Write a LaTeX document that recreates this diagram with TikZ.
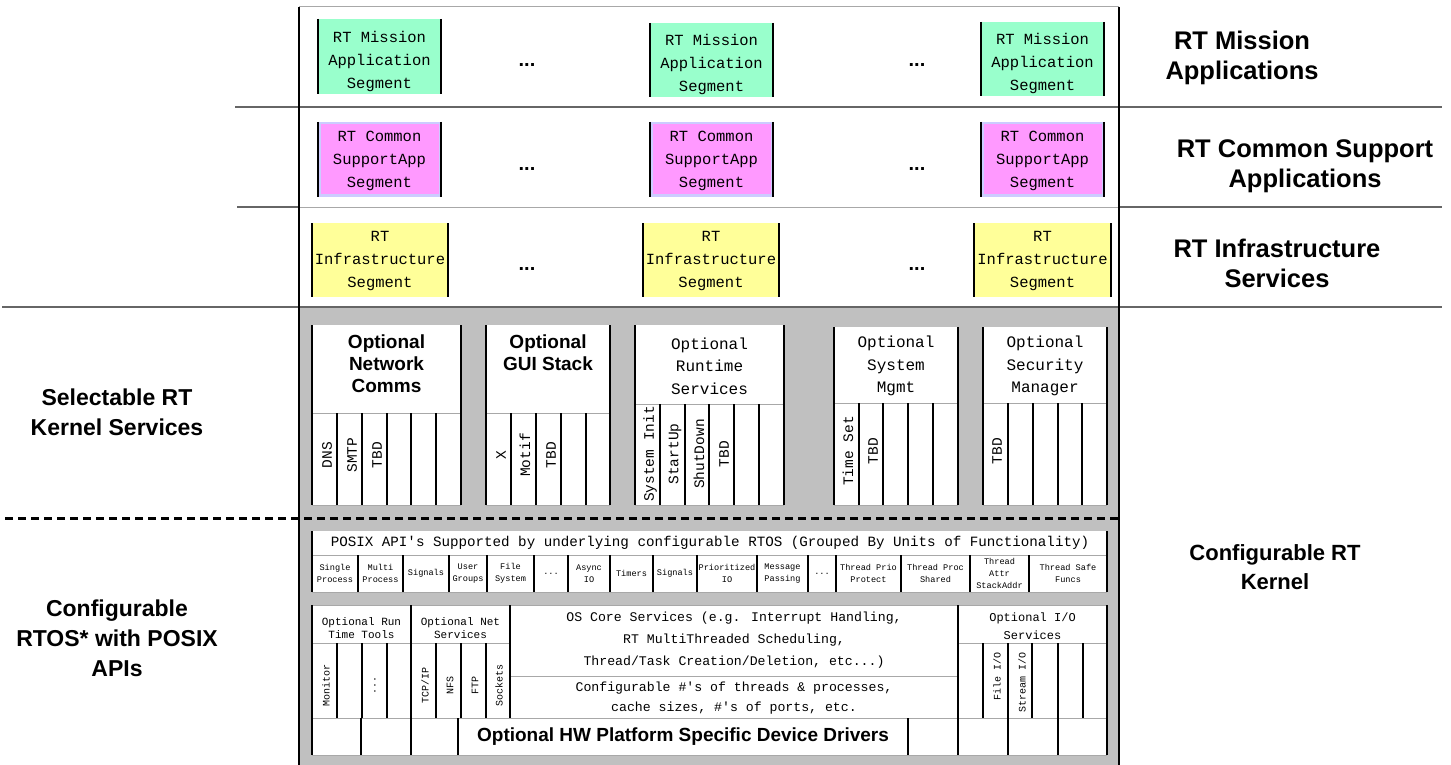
\documentclass[tikz,border=0pt]{standalone}
\usepackage{fontspec}
\setmainfont{Liberation Sans}
\newfontfamily\cour{Liberation Mono}
\newcommand\myfs[2]{\fontsize{#1}{#2}\selectfont}
\newcommand\tdots{...}
\definecolor{mgreen}{HTML}{99FFCC}
\definecolor{mpink}{HTML}{FF99FF}
\definecolor{mlav}{HTML}{CCCCFF}
\definecolor{myellow}{HTML}{FFFF99}
\definecolor{mgrey}{HTML}{C0C0C0}
\definecolor{sepdark}{HTML}{666666}
\definecolor{seplight}{HTML}{A8A8A8}
\begin{document}
\begin{tikzpicture}[x=1pt,y=-1pt,
  bar/.style={line width=2pt,draw=black},
  hair/.style={line width=0.8pt,draw=seplight},
  sepd/.style={line width=1.6pt,draw=sepdark},
  segtxt/.style={font=\cour\myfs{15.5}{23},align=center,inner sep=0pt},
  dots/.style={font=\bfseries\myfs{20}{24},inner sep=0pt,anchor=base},
  biglab/.style={font=\bfseries\myfs{25.5}{30},align=center,inner sep=0pt},
  sidelab/.style={font=\bfseries\myfs{23}{30},align=center,inner sep=0pt},
  hdrb/.style={font=\bfseries\myfs{19}{22},align=center,inner sep=0pt},
  hdrm/.style={font=\cour\myfs{16}{22.5},align=center,inner sep=0pt},
  vlab/.style={font=\cour\myfs{14.5}{15},rotate=90,inner sep=0pt},
  vlabs/.style={font=\cour\myfs{10}{10},rotate=90,inner sep=0pt},
  cell/.style={font=\cour\myfs{8.6}{12},align=center,inner sep=0pt},
  hdrs/.style={font=\cour\myfs{11}{13},align=center,inner sep=0pt},
  coretxt/.style={font=\cour\myfs{13.2}{22},align=center,inner sep=0pt}]
\useasboundingbox (0,0) rectangle (1451,765);
\fill[white] (0,0) rectangle (1451,765);
% grey kernel region
\fill[mgrey] (299,307) rectangle (1119,765);
% separators
\draw[line width=1pt,draw=seplight] (299,7) -- (1119,7);
\draw[sepd] (235,107) -- (1442,107);
\draw[sepd] (237,207) -- (299,207);
\draw[hair] (299,207) -- (1119,207);
\draw[sepd] (1119,207) -- (1442,207);
\draw[sepd] (2,307) -- (1442,307);
\draw[line width=1.6pt] (299,7) -- (299,765);
\draw[line width=1.6pt] (1119,7) -- (1119,765);
\draw[line width=3pt,dash pattern=on 8pt off 5pt] (5,518) -- (1119,518);
% application segments
\foreach \a/\b/\t/\u in {318/441/19/94,650/773/23/97,981/1104/22/96}{
  \fill[mgreen] (\a,\t) rectangle (\b,\u);
  \draw[bar] (\a,\t) -- (\a,\u) (\b,\t) -- (\b,\u);}
\foreach \a/\b/\t/\u in {318/441/122/197,650/773/122/197,981/1104/122/197}{
  \fill[mlav] (\a,\t) rectangle (\b,\u);
  \fill[mpink] (\a+3,\t+2.5) rectangle (\b-2,\u-3);
  \draw[bar] (\a,\t) -- (\a,\u) (\b,\t) -- (\b,\u);}
\foreach \a/\b/\t/\u in {312/448/223/297,643/779/223/297,974/1111/223/297}{
  \fill[myellow] (\a,\t) rectangle (\b,\u);
  \draw[bar] (\a,\t) -- (\a,\u) (\b,\t) -- (\b,\u);}
\node[segtxt] (m1) at (379.5,61) {RT Mission\\Application\\Segment};
\node[segtxt] (m2) at (711.5,64) {RT Mission\\Application\\Segment};
\node[segtxt] (m3) at (1042.5,63) {RT Mission\\Application\\Segment};
\node[segtxt] (c1) at (379.5,161) {RT Common\\SupportApp\\Segment};
\node[segtxt] (c2) at (711.5,161) {RT Common\\SupportApp\\Segment};
\node[segtxt] (c3) at (1042.5,161) {RT Common\\SupportApp\\Segment};
\node[segtxt] (i1) at (380,261) {RT\\Infrastructure\\Segment};
\node[segtxt] (i2) at (711,261) {RT\\Infrastructure\\Segment};
\node[segtxt] (i3) at (1042.5,261) {RT\\Infrastructure\\Segment};
\node[dots] (d1) at (527,67) {\tdots};
\node[dots] (d2) at (917,67) {\tdots};
\node[dots] (d3) at (527,170) {\tdots};
\node[dots] (d4) at (917,170) {\tdots};
\node[dots] (d5) at (527,270) {\tdots};
\node[dots] (d6) at (917,270) {\tdots};
% side labels
\node[biglab] (lmis) at (1242,58) {RT Mission\\Applications};
\node[biglab] (lcom) at (1305,166) {RT Common Support\\Applications};
\node[biglab] (linf) at (1277,263) {RT Infrastructure\\Services};
\node[sidelab,font=\bfseries\myfs{22}{29}] (lker) at (1275,567) {Configurable RT\\Kernel};
\node[sidelab] (lsel) at (117,412) {Selectable RT\\Kernel Services};
\node[sidelab] (lrtos) at (117,638) {Configurable\\RTOS* with POSIX\\APIs};
% selectable kernel services
\foreach \a/\b/\t/\h in {312/461/325/413,486/610/325/413,635/784/325/404,834/958/327/403,983/1107/327/403}{
  \fill[white] (\a,\t) rectangle (\b,505);
  \draw[hair] (\a,\h) -- (\b,\h) (\a,505) -- (\b,505);
  \draw[bar] (\a,\t) -- (\a,505) (\b,\t) -- (\b,505);}
\foreach \x in {337,362,387,411,436,511,536,561,586} \draw[bar] (\x,413) -- (\x,505);
\foreach \x in {660,685,709,734,759} \draw[bar] (\x,404) -- (\x,505);
\foreach \x in {859,883,908,933,1008,1033,1058,1082} \draw[bar] (\x,403) -- (\x,505);
\node[hdrb] (hnet) at (386.5,364) {Optional\\Network\\Comms};
\node[hdrb] (hgui) at (548,353) {Optional\\GUI Stack};
\node[hdrm] (hrun) at (709.5,366) {Optional\\Runtime\\Services};
\node[hdrm] (hsys) at (896,366) {Optional\\System\\Mgmt};
\node[hdrm] (hsec) at (1045,366) {Optional\\Security\\Manager};
\node[vlab] (vdns) at (327,455) {DNS};
\node[vlab] (vsmtp) at (352,455) {SMTP};
\node[vlab] (vtbd1) at (377,455) {TBD};
\node[vlab] (vx) at (501,455) {X};
\node[vlab] (vmotif) at (525,455) {Motif};
\node[vlab] (vtbd2) at (551,455) {TBD};
\node[vlab] (vinit) at (650,454) {System Init};
\node[vlab] (vstart) at (675,454) {StartUp};
\node[vlab] (vshut) at (699,454) {ShutDown};
\node[vlab] (vtbd3) at (724,454) {TBD};
\node[vlab] (vtime) at (848,451) {Time Set};
\node[vlab] (vtbd4) at (873,451) {TBD};
\node[vlab] (vtbd5) at (997,451) {TBD};
% POSIX API row
\fill[white] (312,531) rectangle (1107,592);
\draw[hair] (312,555) -- (1107,555) (312,592) -- (1107,592);
\draw[bar] (312,531) -- (312,592) (1107,531) -- (1107,592);
\foreach \x in {358,403,449,487,534,568,610,653,697,757,808,836,901,970,1029} \draw[bar] (\x,555) -- (\x,592);
\node[font=\cour\myfs{14.2}{16},inner sep=0pt] (posix) at (710,543) {POSIX API's Supported by underlying configurable RTOS (Grouped By Units of Functionality)};
\foreach \a/\b/\t [count=\i] in {312/358/Single\\Process,358/403/Multi\\Process,403/449/Signals,449/487/User\\Groups,487/534/File\\System,534/568/\tdots,568/610/Async\\IO,610/653/Timers,653/697/Signals,697/757/Prioritized\\IO,757/808/Message\\Passing,808/836/\tdots,836/901/Thread Prio\\Protect,901/970/Thread Proc\\Shared,970/1029/Thread\\Attr\\StackAddr,1029/1107/Thread Safe\\Funcs}
  \node[cell] (p\i) at ({(\a+\b)/2},573.5) {\t};
% configurable RTOS panel
\fill[white] (312,605) rectangle (1107,755);
\draw[hair] (312,605) -- (1107,605) (312,643) -- (510,643) (958,643) -- (1107,643) (510,676) -- (958,676) (312,718) -- (1107,718) (312,755) -- (1107,755);
\draw[bar] (312,605) -- (312,755) (1107,605) -- (1107,755) (411,605) -- (411,755) (958,605) -- (958,755) (510,605) -- (510,718);
\foreach \x in {337,362,387,436,461,486,983,1008,1032,1058,1083} \draw[bar] (\x,643) -- (\x,718);
\foreach \x in {361,458,908,1008,1058} \draw[bar] (\x,718) -- (\x,755);
\node[hdrs] (hrtt) at (361.5,628) {Optional Run\\Time Tools};
\node[hdrs] (hnets) at (460.5,628) {Optional Net\\Services};
\node[hdrs,font=\cour\myfs{12}{18}] (hio) at (1032.5,626) {Optional I/O\\Services};
\node[vlabs] (vmon) at (326,685) {Monitor};
\node[vlabs] (vdots) at (375,685) {\tdots};
\node[vlabs] (vtcp) at (425,685) {TCP/IP};
\node[vlabs] (vnfs) at (450,685) {NFS};
\node[vlabs] (vftp) at (475,685) {FTP};
\node[vlabs] (vsock) at (499,685) {Sockets};
\node[vlabs,anchor=east] (vfile) at (997,652) {File I/O};
\node[vlabs,anchor=east] (vstream) at (1022,652) {Stream I/O};
\node[coretxt] (core) at (734,640) {OS Core Services (e.g. Interrupt Handling,\\RT MultiThreaded Scheduling,\\Thread/Task Creation/Deletion, etc...)};
\node[coretxt,font=\cour\myfs{13.2}{20}] (conf) at (734,698) {Configurable \#'s of threads \& processes,\\cache sizes, \#'s of ports, etc.};
\node[hdrb] (hw) at (683,737) {Optional HW Platform Specific Device Drivers};
\end{tikzpicture}
\end{document}
